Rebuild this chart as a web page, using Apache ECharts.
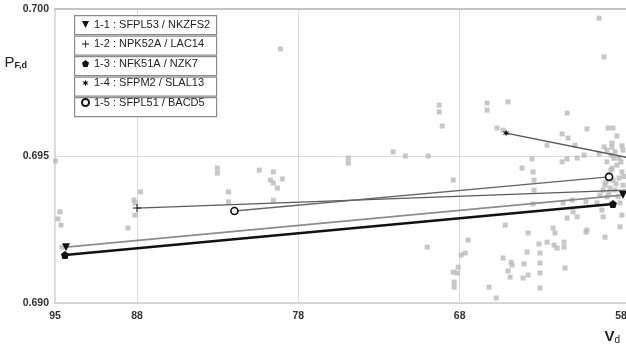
<!DOCTYPE html>
<html>
<head>
<meta charset="utf-8">
<script src="https://cdn.jsdelivr.net/npm/echarts@6/dist/echarts.min.js"></script>
<style>
  html, body { margin: 0; padding: 0; background: #fff; }
  #chart { width: 626px; height: 346px; }
</style>
</head>
<body>
<div id="chart"></div>
<script>
// x axis labels (Vd) and y axis labels (P F,d)
const vdTicks = [58, 68, 78, 88, 95];
const pTicks = [0.690, 0.695, 0.700];

const pairNames = [
  "1-1 : SFPL53 / NKZFS2",
  "1-2 : NPK52A / LAC14",
  "1-3 : NFK51A / NZK7",
  "1-4 : SFPM2 / SLAL13",
  "1-5 : SFPL51 / BACD5"
];

// each pair: [Vd, P F,d] of the two glasses
const pair11 = [[94.06, 0.69190], [57.88, 0.69367]];
const pair12 = [[88.0, 0.69323], [57.57, 0.69384]];
const pair13 = [[94.15, 0.69163], [58.50, 0.69337]];
const pair14 = [[65.12, 0.69578], [56.82, 0.69486]];
const pair15 = [[81.96, 0.69313], [58.74, 0.69429]];

// glass catalogue in the background
const glassPoints = [
  [94.95, 0.69483], [94.58, 0.69310], [94.75, 0.69286], [94.49, 0.69265], [94.41, 0.69190],
  [87.78, 0.69378], [88.26, 0.69350], [88.17, 0.69340], [88.17, 0.69299], [88.77, 0.69255],
  [83.02, 0.69459], [83.02, 0.69442], [82.33, 0.69378], [82.33, 0.69344], [80.42, 0.69452],
  [79.55, 0.69446], [79.73, 0.69418], [79.55, 0.69408], [79.30, 0.69391], [78.99, 0.69422],
  [79.55, 0.69350], [79.11, 0.69864], [74.90, 0.69493], [74.90, 0.69476], [72.12, 0.69514],
  [71.37, 0.69500], [69.95, 0.69500], [70.01, 0.69190], [69.27, 0.69673], [69.27, 0.69650],
  [69.08, 0.69602], [68.40, 0.69418], [66.30, 0.69680], [66.30, 0.69656], [65.00, 0.69684],
  [61.34, 0.69646], [59.36, 0.69969], [59.05, 0.69837], [65.68, 0.69595], [65.31, 0.69588],
  [60.11, 0.69592], [58.80, 0.69595], [58.50, 0.69595], [58.25, 0.69568], [58.56, 0.69544],
  [59.05, 0.69531], [61.65, 0.69575], [61.28, 0.69561], [60.85, 0.69537], [62.58, 0.69537],
  [60.29, 0.69503], [60.72, 0.69493], [61.34, 0.69490], [61.65, 0.69480], [63.51, 0.69490],
  [64.13, 0.69459], [63.45, 0.69446], [63.39, 0.69418], [63.39, 0.69384], [59.36, 0.69507],
  [63.45, 0.69337], [61.59, 0.69340], [61.03, 0.69350], [60.17, 0.69344], [59.49, 0.69340],
  [60.97, 0.69310], [61.34, 0.69289], [60.72, 0.69293], [59.18, 0.69316], [59.11, 0.69293],
  [57.94, 0.69299], [58.06, 0.69259], [65.18, 0.69265], [62.21, 0.69255], [62.09, 0.69238],
  [60.11, 0.69248], [63.76, 0.69238], [67.47, 0.69214], [58.99, 0.69224], [62.58, 0.69207],
  [62.15, 0.69197], [61.96, 0.69187], [61.53, 0.69207], [61.53, 0.69190], [60.17, 0.69241],
  [63.08, 0.69201], [67.66, 0.69170], [67.91, 0.69163], [65.31, 0.69153], [63.82, 0.69173],
  [63.02, 0.69170], [64.81, 0.69139], [64.75, 0.69129], [64.01, 0.69133], [68.09, 0.69122],
  [68.40, 0.69105], [68.15, 0.69102], [65.00, 0.69109], [64.87, 0.69088], [63.76, 0.69095],
  [64.07, 0.69085], [63.02, 0.69102], [61.47, 0.69119], [68.34, 0.69071], [68.34, 0.69054],
  [66.18, 0.69054], [63.02, 0.69051], [65.74, 0.69017], [63.02, 0.69136],
  [58.87, 0.69520], [58.62, 0.69503], [58.37, 0.69514], [58.12, 0.69493], [57.88, 0.69520],
  [58.87, 0.69480], [58.56, 0.69459], [58.25, 0.69469], [57.94, 0.69446], [58.80, 0.69435],
  [58.50, 0.69418], [58.12, 0.69425], [58.99, 0.69401], [58.68, 0.69391], [58.37, 0.69384],
  [59.30, 0.69367], [58.87, 0.69361], [58.06, 0.69340], [59.11, 0.69384], [57.88, 0.69401],
  [58.62, 0.69452], [58.00, 0.69480], [58.44, 0.69492], [58.93, 0.69412], [58.31, 0.69405],
  [57.82, 0.69430], [58.75, 0.69372], [58.19, 0.69362], [58.56, 0.69530], [57.94, 0.69535]
];

// the 88..95 part of the axis is drawn squeezed in the original
const breakAt = 88;
const breakScale = 0.726;
const toAxis = (v) => (v > breakAt ? breakAt + (v - breakAt) * breakScale : v);
const fromAxis = (a) => (a > breakAt + 1e-6 ? breakAt + (a - breakAt) / breakScale : a);
const mapPts = (arr) => arr.map((p) => [toAxis(p[0]), p[1]]);

const xMin = 57.69;
const xMax = toAxis(vdTicks[vdTicks.length - 1]);

const triDown = "path://M0,0L10,0L5,10Z";
const plus = "path://M4.4,0H5.6V4.4H10V5.6H5.6V10H4.4V5.6H0V4.4H4.4Z";
const penta = "path://M5,0L10,3.8L8.1,10L1.9,10L0,3.8Z";
const aster = "path://M5,0L6,3.27L9.33,2.5L7,5L9.33,7.5L6,6.73L5,10L4,6.73L0.67,7.5L3,5L0.67,2.5L4,3.27Z";
const ring = "circle";

const chartDom = document.getElementById("chart");
const myChart = echarts.init(chartDom, null, { renderer: "canvas" });

const lineSeries = (name, data, symbol, size, lineColor, width, itemStyle) => ({
  name: name,
  type: "line",
  data: mapPts(data),
  symbol: symbol,
  symbolSize: size,
  showSymbol: true,
  lineStyle: { color: lineColor, width: width },
  itemStyle: itemStyle,
  z: 3
});

// boxes behind each legend entry
const boxes = [];
for (let i = 0; i < pairNames.length; i++) {
  boxes.push({
    type: "rect",
    left: 74,
    top: 15 + i * 20.5,
    z: 3,
    shape: { width: 142, height: 19 },
    style: { fill: "#fff", stroke: "#8a8a8a", lineWidth: 1.2 }
  });
}

let option = {
  animation: false,
  backgroundColor: "#fff",
  grid: { left: 55, right: 0, top: 9, bottom: 43, containLabel: false, outerBoundsMode: "none" },
  graphic: boxes,
  legend: {
    orient: "vertical",
    left: 81,
    top: 19,
    padding: 0,
    itemGap: 8.5,
    itemWidth: 7,
    itemHeight: 7,
    selectedMode: false,
    textStyle: { fontSize: 11, color: "#222", fontFamily: "Liberation Sans, Arial, sans-serif" },
    data: [
      { name: pairNames[0], icon: triDown },
      { name: pairNames[1], icon: plus },
      { name: pairNames[2], icon: penta },
      { name: pairNames[3], icon: aster },
      { name: pairNames[4], icon: ring }
    ]
  },
  xAxis: [
    {
      type: "value",
      inverse: true,
      min: xMin,
      max: xMax,
      name: "{v|V}{s|d}",
      nameLocation: "start",
      nameGap: -6,
      nameTextStyle: {
        align: "right",
        verticalAlign: "top",
        padding: [26, 0, 0, 0],
        rich: {
          v: { fontSize: 15, color: "#222", fontWeight: "bold", fontFamily: "Liberation Sans, Arial, sans-serif" },
          s: { fontSize: 10, color: "#222", fontFamily: "Liberation Sans, Arial, sans-serif", padding: [6, 0, 0, 0] }
        }
      },
      axisLine: { show: true, lineStyle: { color: "#d0d0d0", width: 1.5 } },
      axisTick: { show: false, customValues: vdTicks.slice(1, 4) },
      axisLabel: {
        customValues: vdTicks.map(toAxis),
        margin: 8,
        fontSize: 10.5,
        fontWeight: "bold",
        color: "#333",
        fontFamily: "Liberation Sans, Arial, sans-serif",
        formatter: (v) => Math.round(fromAxis(v)).toString()
      },
      splitLine: { show: true, lineStyle: { color: "#dcdcdc", width: 1 } }
    },
    {
      type: "value",
      position: "top",
      inverse: true,
      min: xMin,
      max: xMax,
      axisLine: { show: true, onZero: false, lineStyle: { color: "#c4c4c4", width: 2 } },
      axisTick: { show: false },
      axisLabel: { show: false },
      splitLine: { show: false }
    }
  ],
  yAxis: {
    type: "value",
    min: pTicks[0],
    max: pTicks[2],
    interval: 0.005,
    name: "{p|P}{s|F,d}",
    nameLocation: "end",
    nameGap: -54,
    nameTextStyle: {
      align: "right",
      verticalAlign: "middle",
      padding: [0, 28, 0, 0],
      rich: {
        p: { fontSize: 15, color: "#222", fontFamily: "Liberation Sans, Arial, sans-serif" },
        s: { fontSize: 9, color: "#222", fontWeight: "bold", fontFamily: "Liberation Sans, Arial, sans-serif", padding: [5, 0, 0, 0] }
      }
    },
    axisLine: { show: true, lineStyle: { color: "#d0d0d0", width: 1.5 } },
    axisTick: { show: false },
    axisLabel: {
      margin: 6,
      fontSize: 10.5,
      fontWeight: "bold",
      color: "#333",
      fontFamily: "Liberation Sans, Arial, sans-serif",
      formatter: (v) => v.toFixed(3)
    },
    splitLine: { show: true, lineStyle: { color: "#dcdcdc", width: 1 } }
  },
  series: [
    {
      name: "glasses",
      type: "scatter",
      data: mapPts(glassPoints),
      symbol: "rect",
      symbolSize: 5,
      itemStyle: { color: "#b9b9b9" },
      silent: true,
      z: 1
    },
    lineSeries(pairNames[0], pair11, triDown, 8, "#8c8c8c", 1.6, { color: "#111" }),
    lineSeries(pairNames[1], pair12, plus, 8, "#5a5a5a", 1.3, { color: "#111" }),
    lineSeries(pairNames[2], pair13, penta, 8, "#111", 2.6, { color: "#111" }),
    lineSeries(pairNames[3], pair14, aster, 7, "#555", 1.3, { color: "#111" }),
    lineSeries(pairNames[4], pair15, ring, 7, "#666", 1.3, { color: "#fff", borderColor: "#111", borderWidth: 1.6 })
  ]
};

option && myChart.setOption(option);
</script>
</body>
</html>
